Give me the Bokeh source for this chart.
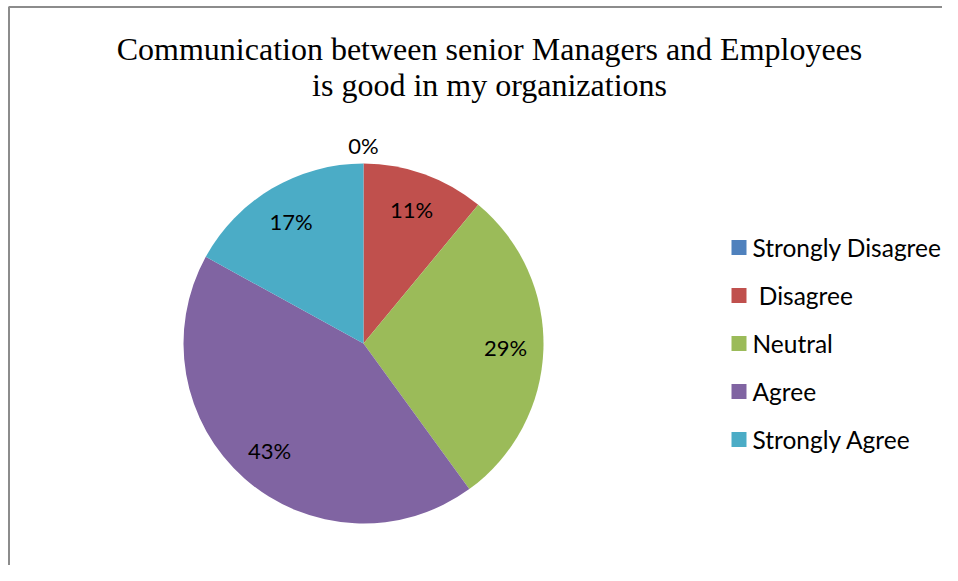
import numpy as np
from bokeh.plotting import figure
from bokeh.models import Range1d, ColumnDataSource
from bokeh.core.properties import value
from bokeh.embed import file_html
from bokeh.resources import INLINE

# ---- data ----
categories = ["Strongly Disagree", "\u00a0Disagree", "Neutral", "Agree", "Strongly Agree"]
percents = [0, 11, 29, 43, 17]
colors = ["#4F81BD", "#C0504D", "#9BBB59", "#8064A2", "#4BACC6"]
title_lines = ["Communication between senior Managers and Employees",
               "is good in my organizations"]

W, H = 942, 565
p = figure(width=W, height=H, output_backend="svg", toolbar_location=None,
           x_range=Range1d(0, W), y_range=Range1d(0, H), min_border=0,
           match_aspect=False)
p.axis.visible = False
p.grid.visible = False
p.outline_line_color = None
p.background_fill_color = "white"
p.border_fill_color = "white"

# border (chart area frame)
p.segment(x0=[8.5, 8], y0=[0, H - 6.5], x1=[8.5, W], y1=[H - 6.5, H - 6.5],
          line_color="#8C8C8C", line_width=2)

# title
p.text(x=[489, 489], y=[H - 48, H - 84], text=title_lines,
       text_font=value("Liberation Serif"), text_font_size="32px",
       text_align="center", text_baseline="middle", text_color="black")

# pie
cx, cy, R = 363, H - 343, 180
vals = np.array(percents, dtype=float)
frac = vals / vals.sum()
cum = np.concatenate([[0], np.cumsum(frac)])
start = np.pi / 2 - cum[:-1] * 2 * np.pi
end = np.pi / 2 - cum[1:] * 2 * np.pi
mask = vals > 0
src = ColumnDataSource(dict(start=start[mask], end=end[mask],
                            color=[c for c, m in zip(colors, mask) if m]))
p.wedge(x=cx, y=cy, radius=R, start_angle="start", end_angle="end",
        direction="clock", fill_color="color", line_color=None, source=src)

# data labels
mid = (start + end) / 2
label_r = np.where(vals > 0, 0.79 * R, 1.1 * R)
lx = cx + label_r * np.cos(mid)
ly = cy + label_r * np.sin(mid)
p.text(x=lx, y=ly, text=[f"{v:.0f}%" for v in percents],
       text_font=value("Lato"), text_font_size="22px",
       text_align="center", text_baseline="middle", text_color="black")

# legend
ly0 = np.array([cy + 96 - 48 * i for i in range(len(categories))], dtype=float)
p.rect(x=[738.5] * len(categories), y=ly0, width=15, height=15,
       fill_color=colors, line_color=None)
p.text(x=[752] * len(categories), y=ly0, text=categories,
       text_font=value("Lato"), text_font_size="24.5px",
       text_align="left", text_baseline="middle", text_color="black")

open("out.html", "w").write(file_html(p, INLINE))
